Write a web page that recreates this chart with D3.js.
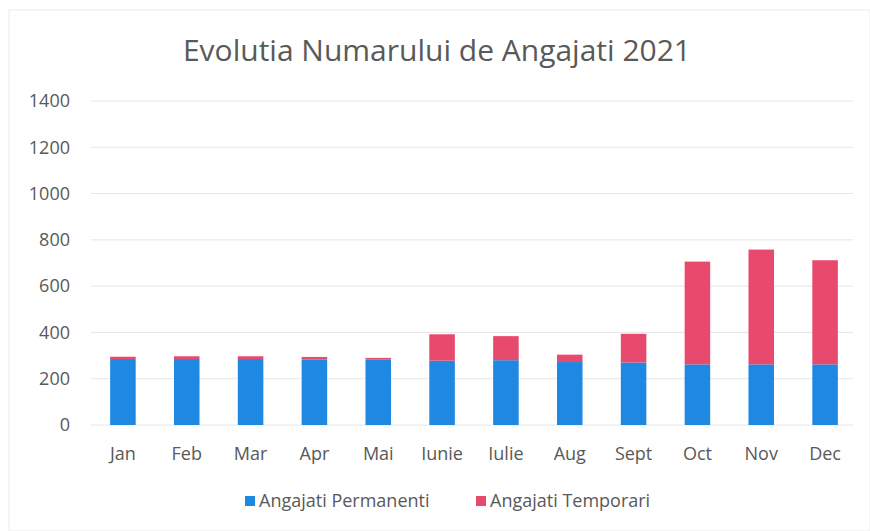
<!DOCTYPE html>
<html>
<head>
<meta charset="utf-8">
<script src="https://cdn.jsdelivr.net/npm/d3@7"></script>
<style>
  body { margin: 0; background: #fff; }
  svg text { font-family: "Open Sans", "Noto Sans", sans-serif; fill: #595959; }
</style>
</head>
<body>
<div id="chart"></div>
<script>
// data
var months = ['Jan', 'Feb', 'Mar', 'Apr', 'Mai', 'Iunie', 'Iulie', 'Aug', 'Sept', 'Oct', 'Nov', 'Dec'];
var permanenti = [285, 285, 285, 282, 282, 278, 280, 272, 270, 262, 262, 262];
var temporari = [10, 12, 12, 12, 8, 114, 104, 32, 124, 444, 496, 450];
var yTicks = [0, 200, 400, 600, 800, 1000, 1200, 1400];
var seriesNames = ['Angajati Permanenti', 'Angajati Temporari'];
var colors = ['#1e88e3', '#e84a6e'];

var W = 870, H = 531;
var margin = { top: 100, right: 13, bottom: 105, left: 91 };

var svg = d3.select('#chart').append('svg')
  .attr('width', W)
  .attr('height', H);

// faint frame of the scanned chart
svg.append('rect')
  .attr('x', 9).attr('y', 10)
  .attr('width', W - 9).attr('height', H - 10)
  .attr('fill', 'none')
  .attr('stroke', '#ececec');

//title
svg.append('text')
  .attr('x', 437)
  .attr('y', 61)
  .attr('text-anchor', 'middle')
  .style('font-size', '30px')
  .text('Evolutia Numarului de Angajati 2021');

var x = d3.scaleBand()
  .domain(months)
  .range([margin.left, W - margin.right])
  .paddingInner(0.6)
  .paddingOuter(0.3);

var y = d3.scaleLinear()
  .domain([0, 1400])
  .range([425, 101]);

//gridlines
svg.append('g')
  .selectAll('line')
  .data(yTicks)
  .enter()
  .append('line')
  .attr('x1', margin.left)
  .attr('x2', W - 17)
  .attr('y1', function(d) { return y(d); })
  .attr('y2', function(d) { return y(d); })
  .attr('stroke', '#e6e6e6')
  .attr('stroke-width', 1);

//y axis labels
var yAxis = svg.append('g')
  .attr('transform', 'translate(' + (margin.left - 14) + ',0)')
  .call(d3.axisLeft(y).tickValues(yTicks).tickFormat(d3.format('d')).tickSize(0).tickPadding(7));
yAxis.select('.domain').remove();
yAxis.selectAll('text')
  .style('font-size', '18px')
  .style('font-family', '"Open Sans", sans-serif')
  .attr('fill', '#595959');

//x axis labels
var xAxis = svg.append('g')
  .attr('transform', 'translate(0,' + y(0) + ')')
  .call(d3.axisBottom(x).tickSize(0).tickPadding(22));
xAxis.select('.domain').remove();
xAxis.selectAll('text')
  .style('font-size', '18px')
  .style('font-family', '"Open Sans", sans-serif')
  .attr('fill', '#595959');

//stacked bars
var rows = months.map(function(m, i) {
  return { month: m, perm: permanenti[i], temp: temporari[i] };
});
var stack = d3.stack().keys(['perm', 'temp']);
var layers = stack(rows);

svg.append('g')
  .selectAll('g')
  .data(layers)
  .enter()
  .append('g')
  .attr('fill', function(d, i) { return colors[i]; })
  .selectAll('rect')
  .data(function(d) { return d; })
  .enter()
  .append('rect')
  .attr('x', function(d) { return x(d.data.month); })
  .attr('y', function(d) { return y(d[1]); })
  .attr('width', x.bandwidth())
  .attr('height', function(d) { return y(d[0]) - y(d[1]); });

//legend
var legendX = [245, 476];
var legend = svg.append('g')
  .selectAll('g')
  .data(seriesNames)
  .enter()
  .append('g')
  .attr('transform', function(d, i) { return 'translate(' + legendX[i] + ',496)'; });

legend.append('rect')
  .attr('width', 10)
  .attr('height', 10)
  .attr('fill', function(d, i) { return colors[i]; });

legend.append('text')
  .attr('x', 14)
  .attr('y', 11)
  .style('font-size', '18px')
  .text(function(d) { return d; });
</script>
</body>
</html>
